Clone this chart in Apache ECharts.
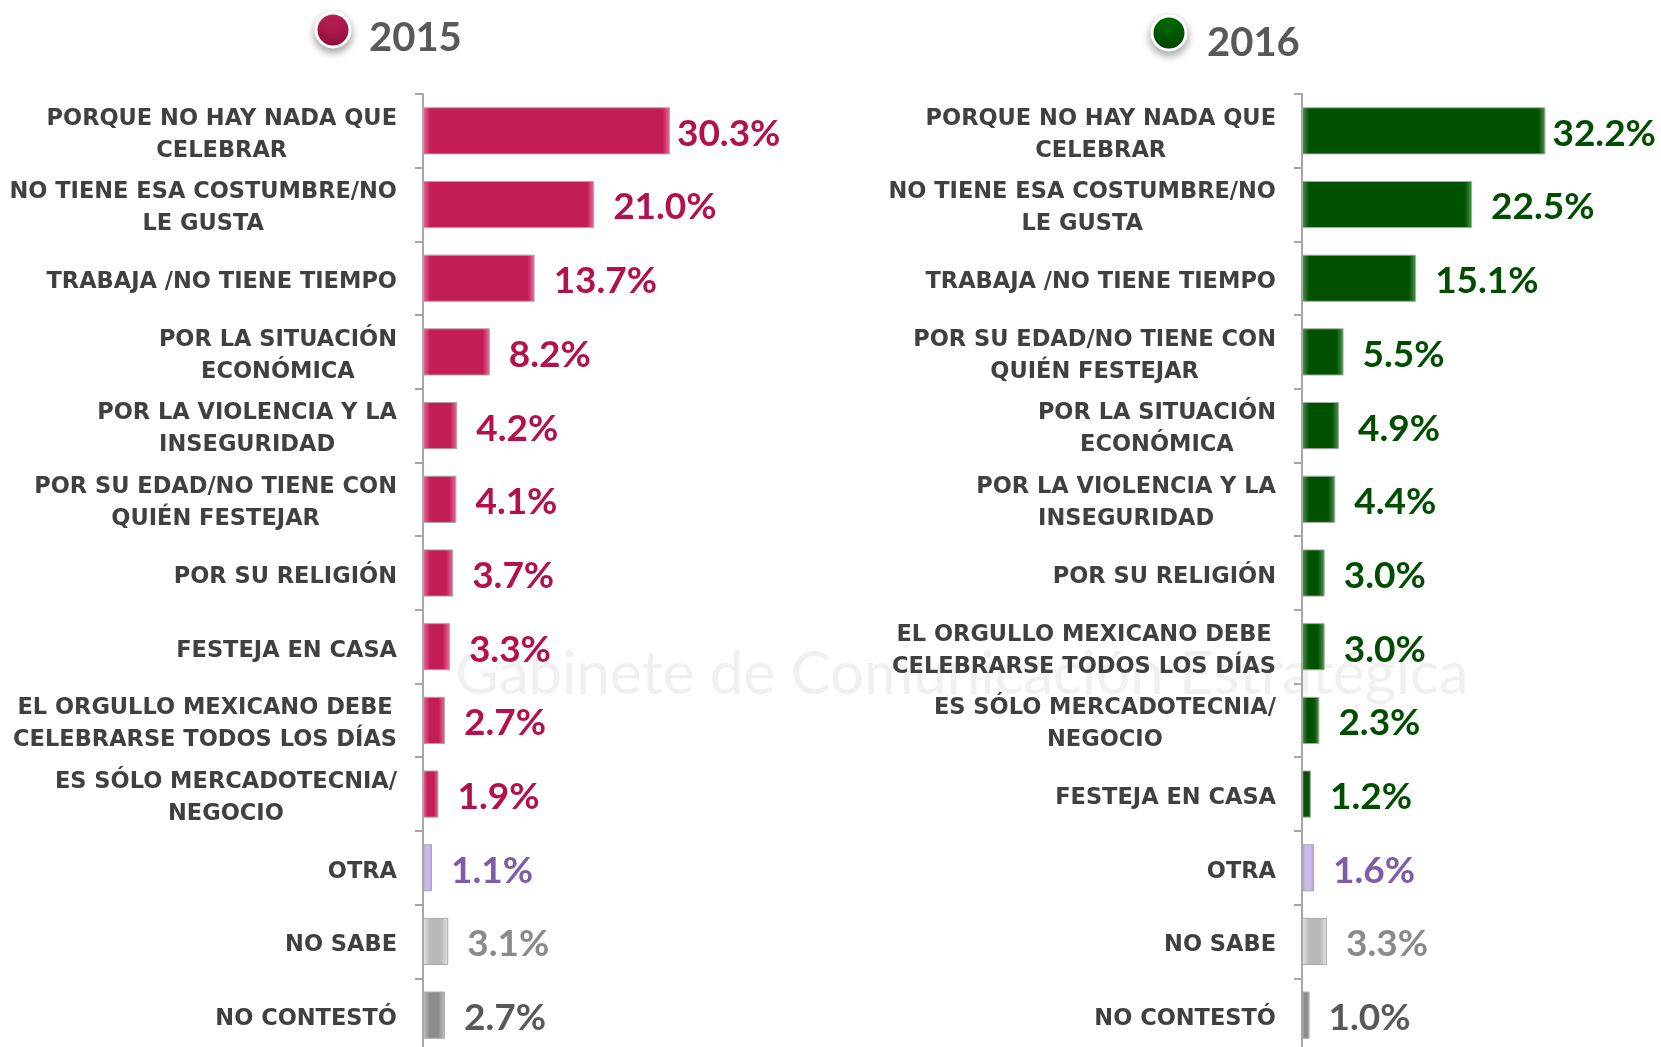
<!DOCTYPE html>
<html><head><meta charset="utf-8">
<script src="https://cdn.jsdelivr.net/npm/echarts@6/dist/echarts.min.js"></script>
<style>html,body{margin:0;padding:0;background:#fff}#c{width:1661px;height:1047px}</style>
</head><body><div id="c"></div>
<script>
const categories2015 = [
  'PORQUE NO HAY NADA QUE\nCELEBRAR','NO TIENE ESA COSTUMBRE/NO\nLE GUSTA','TRABAJA /NO TIENE TIEMPO',
  'POR LA SITUACIÓN\nECONÓMICA','POR LA VIOLENCIA Y LA\nINSEGURIDAD','POR SU EDAD/NO TIENE CON\nQUIÉN FESTEJAR',
  'POR SU RELIGIÓN','FESTEJA EN CASA','EL ORGULLO MEXICANO DEBE\nCELEBRARSE TODOS LOS DÍAS',
  'ES SÓLO MERCADOTECNIA/\nNEGOCIO','OTRA','NO SABE','NO CONTESTÓ'];
const values2015 = [30.3, 21.0, 13.7, 8.2, 4.2, 4.1, 3.7, 3.3, 2.7, 1.9, 1.1, 3.1, 2.7];
const categories2016 = [
  'PORQUE NO HAY NADA QUE\nCELEBRAR','NO TIENE ESA COSTUMBRE/NO\nLE GUSTA','TRABAJA /NO TIENE TIEMPO',
  'POR SU EDAD/NO TIENE CON\nQUIÉN FESTEJAR','POR LA SITUACIÓN\nECONÓMICA','POR LA VIOLENCIA Y LA\nINSEGURIDAD',
  'POR SU RELIGIÓN','EL ORGULLO MEXICANO DEBE\nCELEBRARSE TODOS LOS DÍAS','ES SÓLO MERCADOTECNIA/\nNEGOCIO',
  'FESTEJA EN CASA','OTRA','NO SABE','NO CONTESTÓ'];
const values2016 = [32.2, 22.5, 15.1, 5.5, 4.9, 4.4, 3.0, 3.0, 2.3, 1.2, 1.6, 3.3, 1.0];
const titles = ['2015', '2016'];

const FONT = 'Lato, "Noto Sans", sans-serif';
const LFONT = '"DejaVu Sans", sans-serif';
const pal = {
  main2015: {fill:'#C21D57', edge:'#EE6E9F', text:'#B3104D'},
  main2016: {fill:'#005200', edge:'#4E9A4E', text:'#004D00'},
  otra: {fill:'#CDB9EA', edge:'#B497DA', text:'#7E5CA7'},
  nosabe: {fill:'#B8B8B8', edge:'#E6E6E6', text:'#8A8A8A'},
  nocont: {fill:'#8C8C8C', edge:'#C4C4C4', text:'#595959'}
};
function styleFor(i, n, main) {
  if (i === n - 3) return pal.otra;
  if (i === n - 2) return pal.nosabe;
  if (i === n - 1) return pal.nocont;
  return main;
}
function buildData(values, main, pxPer) {
  return values.map((v, i) => {
    const s = styleFor(i, values.length, main);
    const w = Math.max(v * pxPer, 1);
    const e = Math.min(0.3, 7 / w);
    return {
      value: v,
      itemStyle: {
        color: {type:'linear', x:0, y:0, x2:1, y2:0, colorStops:[
          {offset:0, color:s.edge},{offset:e, color:s.fill},{offset:1-e, color:s.fill},{offset:1, color:s.edge}]},
        borderColor: '#A8A8A8', borderWidth: 1
      },
      label: {color: s.text, distance: i === 0 ? 7 : 19}
    };
  });
}
function richFmt(v) {
  return v.split('\n').map(l => '{c|' + l + '}').join('\n');
}
const PX1 = 8.15, PX2 = 7.56, XMAX = 35;
const chart = echarts.init(document.getElementById('c'));
const yAxisCommon = (cats) => ({
  type: 'category', data: cats, inverse: true,
  axisLine: {lineStyle: {color: '#A6A6A6', width: 2}},
  axisTick: {show: true, length: 8, lineStyle: {color: '#A6A6A6', width: 2}},
  axisLabel: {
    margin: 26, align: 'right', formatter: richFmt, padding: [8, 0, 0, 0],
    rich: {c: {align: 'center', fontFamily: LFONT, fontWeight: 'bold', fontSize: 22.5, color: '#404040', lineHeight: 32}}
  }
});
chart.setOption({
  backgroundColor: '#fff',
  animation: false,
  graphic: [
    {type:'text', left: 455, top: 645, z: -10, style: {text: 'Gabinete de Comunicación Estratégica', fill: '#F0F0F0', font: '60px ' + FONT}},
    {type:'circle', shape:{cx:333, cy:30, r:17}, style:{fill:{type:'linear',x:0,y:0,x2:0,y2:1,colorStops:[{offset:0,color:'#D42563'},{offset:1,color:'#8A0D3B'}]}, stroke:'#fff', lineWidth:3, shadowBlur:8, shadowOffsetY:4, shadowColor:'rgba(0,0,0,0.35)'}},
    {type:'text', left: 369, top: 18, style:{text: titles[0], fill:'#595959', font:'bold 40px ' + FONT}},
    {type:'circle', shape:{cx:1169, cy:33, r:17}, style:{fill:{type:'linear',x:0,y:0,x2:0,y2:1,colorStops:[{offset:0,color:'#037A03'},{offset:1,color:'#003F00'}]}, stroke:'#fff', lineWidth:3, shadowBlur:8, shadowOffsetY:4, shadowColor:'rgba(0,0,0,0.35)'}},
    {type:'text', left: 1207, top: 23, style:{text: titles[1], fill:'#595959', font:'bold 40px ' + FONT}}
  ],
  grid: [
    {left: 423, top: 94, width: XMAX * PX1, height: 958, containLabel: false, outerBoundsMode: 'none'},
    {left: 1302, top: 94, width: XMAX * PX2, height: 958, containLabel: false, outerBoundsMode: 'none'}
  ],
  xAxis: [
    {gridIndex: 0, type: 'value', min: 0, max: XMAX, show: false},
    {gridIndex: 1, type: 'value', min: 0, max: XMAX, show: false}
  ],
  yAxis: [
    Object.assign({gridIndex: 0}, yAxisCommon(categories2015)),
    Object.assign({gridIndex: 1}, yAxisCommon(categories2016))
  ],
  series: [
    {type:'bar', xAxisIndex:0, yAxisIndex:0, barWidth: '64%', data: buildData(values2015, pal.main2015, PX1),
     label: {show:true, position:'right', offset:[0, 3], formatter: p => p.value.toFixed(1) + '%', fontFamily: FONT, fontWeight:'bold', fontSize: 37}},
    {type:'bar', xAxisIndex:1, yAxisIndex:1, barWidth: '64%', data: buildData(values2016, pal.main2016, PX2),
     label: {show:true, position:'right', offset:[0, 3], formatter: p => p.value.toFixed(1) + '%', fontFamily: FONT, fontWeight:'bold', fontSize: 37}}
  ]
});
</script></body></html>
